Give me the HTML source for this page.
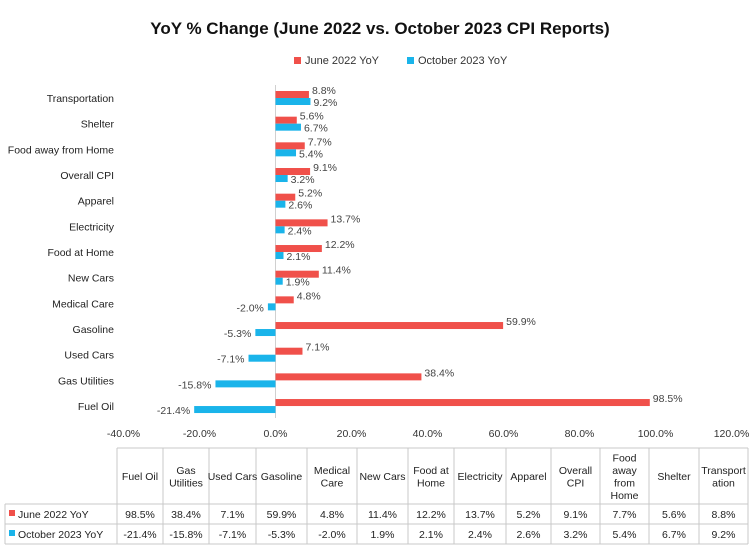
<!DOCTYPE html>
<html><head><meta charset="utf-8"><style>
body{margin:0;background:#fff;font-family:"Liberation Sans",sans-serif;}
svg text{font-family:"Liberation Sans",sans-serif;}
</style></head><body>
<svg id="c" width="749" height="546" xmlns="http://www.w3.org/2000/svg">
<text x="380" y="34" text-anchor="middle" font-size="17" font-weight="bold" fill="#111">YoY % Change (June 2022 vs. October 2023 CPI Reports)</text>
<g>
<rect x="294" y="57" width="7" height="7" fill="#f0504a"/>
<text x="305" y="64" font-size="11" fill="#333">June 2022 YoY</text>
<rect x="407" y="57" width="7" height="7" fill="#1ab4ea"/>
<text x="418" y="64" font-size="11" fill="#333">October 2023 YoY</text>
</g>
<g id="plot"></g>
<g id="table"></g>
</svg>
<script>
const categories=["Transportation","Shelter","Food away from Home","Overall CPI","Apparel","Electricity","Food at Home","New Cars","Medical Care","Gasoline","Used Cars","Gas Utilities","Fuel Oil"];
const june=[8.8,5.6,7.7,9.1,5.2,13.7,12.2,11.4,4.8,59.9,7.1,38.4,98.5];
const oct=[9.2,6.7,5.4,3.2,2.6,2.4,2.1,1.9,-2.0,-5.3,-7.1,-15.8,-21.4];
const ticks=[-40,-20,0,20,40,60,80,100,120];
const tableCats=["Fuel Oil","Gas<br>Utilities","Used Cars","Gasoline","Medical<br>Care","New Cars","Food at<br>Home","Electricity","Apparel","Overall<br>CPI","Food<br>away<br>from<br>Home","Shelter","Transport<br>ation"];
const NS="http://www.w3.org/2000/svg";
const x=v=>275.5+(v)*3.8;
const yc=i=>98+i*25.67;
const plot=document.getElementById('plot');
function mk(tag,at,parent){const e=document.createElementNS(NS,tag);for(const k in at)e.setAttribute(k,at[k]);parent.appendChild(e);return e;}
let ax=mk('line',{x1:x(0),x2:x(0),y1:85,y2:418,stroke:'#d0d0d0'},plot);


categories.forEach((c,i)=>{
 const y=yc(i);
 let t=mk('text',{x:114,y:y+4,'text-anchor':'end','font-size':'10.5',fill:'#222'},plot);t.textContent=c;
 
 
 const j=june[i],o=oct[i];
 let r=mk('rect',{x:Math.min(x(0),x(j)),y:y-7,width:Math.abs(x(j)-x(0)),height:7,fill:'#f0504a'},plot);
 
 
 let b=mk('rect',{x:Math.min(x(0),x(o)),y:y,width:Math.abs(x(o)-x(0)),height:7,fill:'#1ab4ea'},plot);
 
 
 let lj=mk('text',{x:(j>=0?x(j)+3:x(j)-3),y:y-4,'text-anchor':j>=0?'start':'end','font-size':'10.5',fill:'#444'},plot);lj.textContent=j.toFixed(1)+'%';
 
 
 let lo=mk('text',{x:(o>=0?x(o)+3:x(o)-4),y:y+8,'text-anchor':o>=0?'start':'end','font-size':'10.5',fill:'#444'},plot);lo.textContent=o.toFixed(1)+'%';
 
 
});
ticks.forEach(v=>{let t=mk('text',{x:x(v),y:437,'text-anchor':'middle','font-size':'10.5',fill:'#333'},plot);t.textContent=v.toFixed(1)+'%';
 
 });
const tb=document.getElementById('table');
const colX=[117,163,209,256,307,357,408,454,506,551,600,649,699,748];
const tTop=448,hb=504,r1=524,r2=544;
const st={stroke:'#c8c8c8','stroke-width':1};
mk('line',Object.assign({x1:117,x2:748,y1:tTop,y2:tTop},st),tb);
mk('line',Object.assign({x1:5,x2:748,y1:hb,y2:hb},st),tb);
mk('line',Object.assign({x1:5,x2:748,y1:r1,y2:r1},st),tb);
mk('line',Object.assign({x1:5,x2:748,y1:r2,y2:r2},st),tb);
mk('line',Object.assign({x1:5,x2:5,y1:hb,y2:r2},st),tb);
colX.forEach(cx=>mk('line',Object.assign({x1:cx,x2:cx,y1:tTop,y2:r2},st),tb));
tableCats.forEach((c,i)=>{
 const lines=c.split('<br>');const cx=(colX[i]+colX[i+1])/2;
 const lh=12.5;const y0=(tTop+hb)/2-(lines.length-1)*lh/2+4;
 lines.forEach((l,k)=>{let t=mk('text',{x:cx,y:y0+k*lh,'text-anchor':'middle','font-size':'10.5',fill:'#222'},tb);t.textContent=l;
  
  });
 let a=mk('text',{x:cx,y:518,'text-anchor':'middle','font-size':'10.5',fill:'#222'},tb);a.textContent=june[12-i].toFixed(1)+'%';
 
 
 let b=mk('text',{x:cx,y:538,'text-anchor':'middle','font-size':'10.5',fill:'#222'},tb);b.textContent=oct[12-i].toFixed(1)+'%';
 
 
});
let s1=mk('rect',{x:9,y:510,width:6,height:6,fill:'#f0504a'},tb);


let t1=mk('text',{x:18,y:518,'font-size':'10.5',fill:'#222'},tb);t1.textContent='June 2022 YoY';


let s2=mk('rect',{x:9,y:530,width:6,height:6,fill:'#1ab4ea'},tb);


let t2=mk('text',{x:18,y:538,'font-size':'10.5',fill:'#222'},tb);t2.textContent='October 2023 YoY';


</script>
</body></html>
